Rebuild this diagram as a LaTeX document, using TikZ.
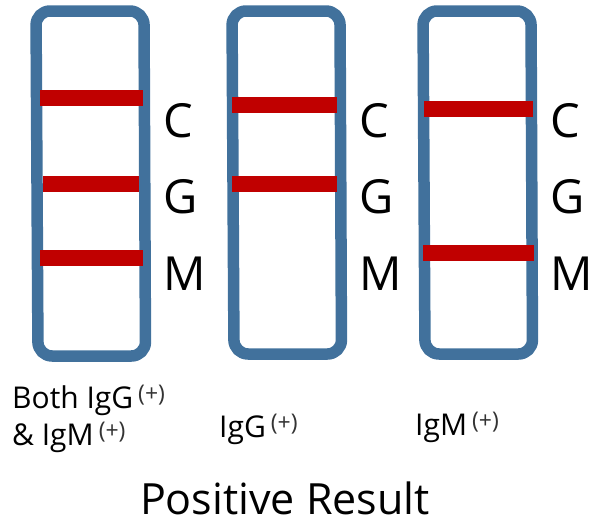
\documentclass[tikz,border=0pt]{standalone}
\usepackage{fontspec}
\setmainfont{Open Sans}
\definecolor{stripblue}{HTML}{41719C}
\definecolor{barred}{HTML}{C00000}
\newcommand{\plusmark}{\hspace{5pt}\raisebox{7pt}{\fontsize{23}{25}\selectfont\color{black!80}(+)}}
\begin{document}
\begin{tikzpicture}[x=1pt,y=-1pt,
  strip/.style={draw=stripblue,line width=11.5pt,rounded corners=14pt,line join=round},
  bar/.style={draw=barred,line width=16pt},
  letter/.style={font=\fontsize{47}{50}\selectfont,inner sep=0pt,anchor=west},
  captext/.style={font=\fontsize{30}{36}\selectfont,inner sep=0pt,anchor=base west},
  titletext/.style={font=\fontsize{43}{48}\selectfont,inner sep=0pt,anchor=base}]
\useasboundingbox (0,0) rectangle (595,525);
% strips
\draw[strip] (36,11) -- (144,11) -- (145.5,356) -- (38,356) -- cycle;
\draw[strip] (232,11) -- (340,11) -- (341.5,354) -- (234,354) -- cycle;
\draw[strip] (423,11) -- (531,11) -- (532.5,354) -- (425,354) -- cycle;
% bars
\draw[bar] (40,98) -- (143,98);
\draw[bar] (43,184) -- (139,184);
\draw[bar] (40,258) -- (143,258);
\draw[bar] (232,105) -- (337,105);
\draw[bar] (232,184) -- (337,184);
\draw[bar] (424,109) -- (533,109);
\draw[bar] (423,253) -- (534,253);
% letters
\node[letter] (c1) at (163,121) {C};
\node[letter] (g1) at (163,197) {G};
\node[letter] (m1) at (163,274) {M};
\node[letter] (c2) at (359,121) {C};
\node[letter] (g2) at (359,197) {G};
\node[letter] (m2) at (359,274) {M};
\node[letter] (c3) at (550,121) {C};
\node[letter] (g3) at (550,197) {G};
\node[letter] (m3) at (550,274) {M};
% captions
\node[captext] (l1a) at (12,408) {Both IgG\plusmark};
\node[captext] (l1b) at (12,445) {\&~IgM\plusmark};
\node[captext] (l2) at (219,437) {IgG\plusmark};
\node[captext] (l3) at (415,435) {IgM\plusmark};
\node[titletext] (t) at (285,514) {Positive Result};
\end{tikzpicture}
\end{document}
